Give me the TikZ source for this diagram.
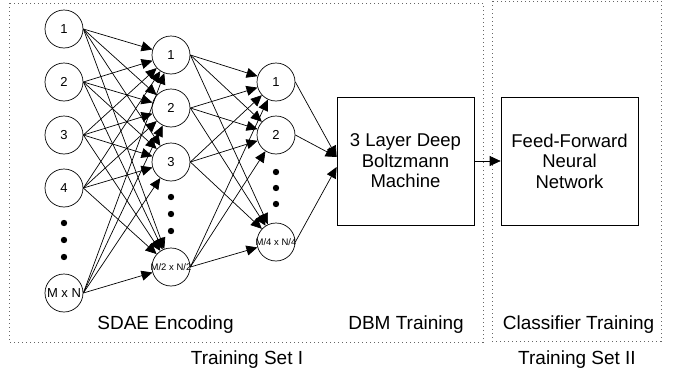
\documentclass[tikz,border=0pt]{standalone}
\usepackage{fontspec}
\setmainfont{Liberation Sans}
\usetikzlibrary{arrows.meta}

\begin{document}
\begin{tikzpicture}[x=1pt,y=-1pt,>={Triangle[length=11pt,width=10pt]}]
\tikzstyle{unit}=[draw,circle,minimum size=38pt,inner sep=0pt,line width=0.7pt,font=\fontsize{13}{15}\selectfont]
\tikzstyle{bigunit}=[unit,font=\fontsize{9.5}{11}\selectfont]
\tikzstyle{stage}=[draw,line width=0.7pt,minimum width=137pt,minimum height=128pt,align=center,font=\fontsize{18.5}{20.5}\selectfont]
\tikzstyle{region}=[draw=black!60,line width=1pt,dash pattern=on 1pt off 3pt]
\tikzstyle{caption}=[font=\fontsize{19}{21}\selectfont]
\tikzstyle{link}=[->,line width=0.7pt]

\useasboundingbox (0,0) rectangle (673,375);

% training regions
\draw[region] (9,3) rectangle (483,342);
\draw[region] (492,1) rectangle (661,341);

% input layer
\foreach \n/\y in {1/29,2/82,3/135,4/188}
  \node[unit] (in\n) at (64,\y) {\n};
\node[unit] (in5) at (64,293) {M x N};
% first hidden layer
\foreach \n/\y in {1/55,2/108,3/162}
  \node[unit] (hid\n) at (171,\y) {\n};
\node[bigunit] (hid4) at (171,267) {\makebox[0pt]{M/2 x N/2}};
% second hidden layer
\foreach \n/\y in {1/82,2/135}
  \node[unit] (top\n) at (276,\y) {\n};
\node[bigunit] (top3) at (276,242) {\makebox[0pt]{M/4 x N/4}};

% dots
\foreach \y in {223,240,257} \fill (64,\y) circle (3.2);
\foreach \y in {197,214,231} \fill (171,\y) circle (3.2);
\foreach \y in {172,188,204} \fill (276,\y) circle (3.2);

\node[stage] (dbm) at (405.5,161) {3 Layer Deep\\Boltzmann\\Machine};
\node[stage] (ffnn) at (569.5,161) {Feed-Forward\\Neural\\Network};

% connections
\foreach \i in {1,...,5}
  \foreach \j in {1,...,4}
    \draw[link] (in\i.east) -- (hid\j);
\foreach \i in {1,...,4}
  \foreach \j in {1,...,3}
    \draw[link] (hid\i.east) -- (top\j);
\draw[link] (top1.east) -- ([yshift=4pt]dbm.west);
\draw[link] (top2.east) -- ([yshift=4pt]dbm.west);
\draw[link] (top3.east) -- ([yshift=-6pt]dbm.west);
\draw[link] (dbm) -- (ffnn);

% captions
\node[caption] (sdae) at (165.5,325) {SDAE Encoding};
\node[caption] (dbmlbl) at (406,325) {DBM Training};
\node[caption] (clflbl) at (578.5,325) {Classifier Training};
\node[caption] (set1) at (247,360) {Training Set I};
\node[caption] (set2) at (577,360) {Training Set II};
\end{tikzpicture}
\end{document}
